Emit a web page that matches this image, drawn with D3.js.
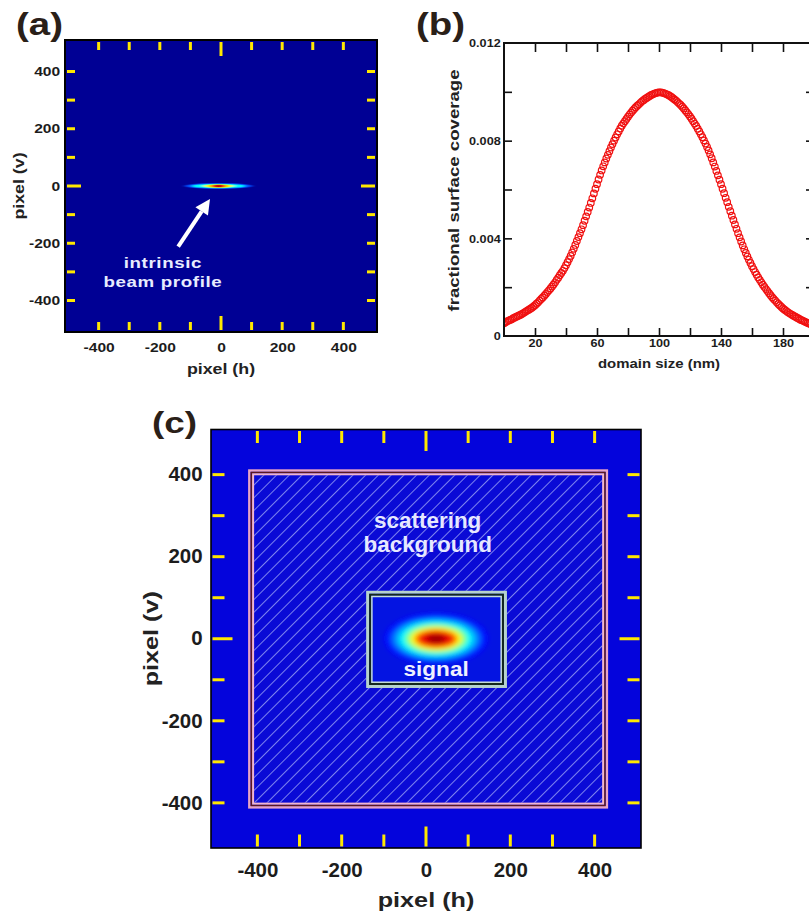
<!DOCTYPE html>
<html><head><meta charset="utf-8">
<script src="https://cdn.jsdelivr.net/npm/d3@7"></script>
<style>
body{margin:0;background:#fff;}
text{font-family:'Liberation Sans',Arial,Helvetica,sans-serif;font-weight:bold;}
</style>
</head><body>
<svg id="fig" width="809" height="920"></svg>
<script>
// ---------------- data ----------------
const pixelDomain = [-510, 510];
const pixelTicks = [-400, -300, -200, -100, 0, 100, 200, 300, 400];
const pixelLabels = [-400, -200, 0, 200, 400];

const domainSize = [0,1,2,3,4,5,6,7,8,9,10,11,12,13,14,15,16,17,18,19,
20,21,22,23,24,25,26,27,28,29,30,31,32,33,34,35,36,37,38,39,
40,41,42,43,44,45,46,47,48,49,50,51,52,53,54,55,56,57,58,59,
60,61,62,63,64,65,66,67,68,69,70,71,72,73,74,75,76,77,78,79,
80,81,82,83,84,85,86,87,88,89,90,91,92,93,94,95,96,97,98,99,
100,101,102,103,104,105,106,107,108,109,110,111,112,113,114,115,116,117,118,119,
120,121,122,123,124,125,126,127,128,129,130,131,132,133,134,135,136,137,138,139,
140,141,142,143,144,145,146,147,148,149,150,151,152,153,154,155,156,157,158,159,
160,161,162,163,164,165,166,167,168,169,170,171,172,173,174,175,176,177,178,179,
180,181,182,183,184,185,186,187,188,189,190,191,192,193,194,195,196,197,198,199];
const coverage = [
0.00052,0.00056,0.00060,0.00063,0.00066,0.00069,0.00073,0.00076,0.00079,0.00082,
0.00085,0.00088,0.00092,0.00096,0.00100,0.00104,0.00108,0.00112,0.00116,0.00121,
0.00126,0.00132,0.00138,0.00145,0.00152,0.00158,0.00165,0.00172,0.00180,0.00187,
0.00195,0.00203,0.00211,0.00220,0.00230,0.00239,0.00249,0.00258,0.00267,0.00278,
0.00290,0.00302,0.00315,0.00328,0.00342,0.00357,0.00373,0.00389,0.00405,0.00421,
0.00437,0.00454,0.00472,0.00490,0.00508,0.00526,0.00545,0.00564,0.00584,0.00603,
0.00622,0.00641,0.00660,0.00678,0.00695,0.00711,0.00727,0.00742,0.00757,0.00772,
0.00786,0.00800,0.00813,0.00826,0.00838,0.00850,0.00861,0.00871,0.00880,0.00889,
0.00898,0.00907,0.00915,0.00923,0.00930,0.00937,0.00943,0.00949,0.00955,0.00961,
0.00966,0.00971,0.00975,0.00979,0.00983,0.00987,0.00990,0.00993,0.00995,0.00997,
0.00998,0.00998,0.00997,0.00995,0.00993,0.00990,0.00987,0.00983,0.00979,0.00974,
0.00969,0.00964,0.00958,0.00952,0.00946,0.00939,0.00932,0.00924,0.00916,0.00908,
0.00899,0.00890,0.00880,0.00870,0.00860,0.00849,0.00838,0.00826,0.00814,0.00801,
0.00788,0.00774,0.00760,0.00744,0.00728,0.00711,0.00694,0.00676,0.00658,0.00640,
0.00622,0.00603,0.00585,0.00566,0.00548,0.00529,0.00511,0.00493,0.00475,0.00457,
0.00439,0.00421,0.00404,0.00387,0.00371,0.00355,0.00340,0.00326,0.00312,0.00299,
0.00286,0.00274,0.00262,0.00251,0.00240,0.00230,0.00220,0.00210,0.00201,0.00192,
0.00184,0.00175,0.00167,0.00159,0.00152,0.00145,0.00138,0.00131,0.00125,0.00119,
0.00113,0.00108,0.00103,0.00098,0.00094,0.00090,0.00086,0.00082,0.00079,0.00075,
0.00072,0.00068,0.00065,0.00062,0.00059,0.00056,0.00053,0.00050,0.00048,0.00046];
const sizeDomain = [0, 200];
const sizeTicks = [20, 40, 60, 80, 100, 120, 140, 160, 180];
const sizeLabels = [20, 60, 100, 140, 180];
const coverageDomain = [0, 0.012];
const coverageTicks = [0, 0.002, 0.004, 0.006, 0.008, 0.010, 0.012];
const coverageLabels = ["0", "", "0.004", "", "0.008", "", "0.012"];

// beam profile (panel a): colour level, half widths in pixel units
const beamCenter = [-8, 0];
const beamLevel = [0.20, 0.38, 0.62, 0.85, 0.97];
const beamRx = [111, 85, 49, 26, 13];
const beamRy = [10, 8, 6, 4.5, 3];

// signal spot (panel c)
const signalCenter = [24, 0];
const signalLevel = [0.14, 0.22, 0.30, 0.38, 0.50, 0.62, 0.72, 0.82, 0.90, 0.97];
const signalRx = [123, 109, 97, 85, 73, 62, 52, 45, 36, 21];
const signalRy = [63, 54, 48, 41, 35, 29, 24, 20, 16, 10];

// regions (panel c), pixel units
const scatterH = [-422, 432];
const scatterV = [-414, 413];
const signalH = [-142, 192];
const signalV = [-120, 117];

// ---------------- helpers ----------------
function jet(t){
  const c = v => Math.max(0, Math.min(1, v));
  return d3.rgb(255*c(1.5-Math.abs(4*t-3)), 255*c(1.5-Math.abs(4*t-2)), 255*c(1.5-Math.abs(4*t-1))).toString();
}
const svg = d3.select('#fig');
const defs = svg.append('defs');
const fmtInt = d => String(d);

function stext(g, str, x, y, size, sx, anchor, rot){
  return g.append('text')
    .attr('transform', `translate(${x},${y})` + (rot ? ` rotate(${rot})` : '') + ` scale(${sx},1)`)
    .attr('text-anchor', anchor || 'middle')
    .style('font-size', size + 'px')
    .text(str);
}

// ---------------- panel (a) ----------------
const A = {l:65, r:377, t:40, b:332};
const xa = d3.scaleLinear().domain(pixelDomain).range([A.l, A.r]);
const ya = d3.scaleLinear().domain(pixelDomain).range([A.b, A.t]);
const ga = svg.append('g');
ga.append('rect').attr('x', A.l).attr('y', A.t).attr('width', A.r-A.l).attr('height', A.b-A.t).attr('fill', jet(0.02));

const fa = defs.append('filter').attr('id','blurA').attr('x','-50%').attr('y','-300%').attr('width','200%').attr('height','700%');
fa.append('feGaussianBlur').attr('stdDeviation','2.2 0.6');
const beamG = ga.append('g').attr('filter','url(#blurA)');
beamG.selectAll('ellipse').data(beamLevel).join('ellipse')
  .attr('cx', xa(beamCenter[0])).attr('cy', ya(beamCenter[1]))
  .attr('rx', (d,i) => xa(beamRx[i]) - xa(0))
  .attr('ry', (d,i) => ya(0) - ya(beamRy[i]))
  .attr('fill', d => jet(d));

function yellowTicks(g, xs, ys, P, minor, major, minorS, majorS){
  const col = '#ffe800';
  pixelTicks.forEach(v => {
    const L = v === 0 ? major : minor;
    const s = v === 0 ? majorS : minorS;
    const x = xs(v), y = ys(v);
    g.append('line').attr('x1',x).attr('x2',x).attr('y1',P.t+s).attr('y2',P.t+s+L).attr('stroke',col).attr('stroke-width',3);
    g.append('line').attr('x1',x).attr('x2',x).attr('y1',P.b-s).attr('y2',P.b-s-L).attr('stroke',col).attr('stroke-width',3);
    g.append('line').attr('y1',y).attr('y2',y).attr('x1',P.l+s).attr('x2',P.l+s+L).attr('stroke',col).attr('stroke-width',3);
    g.append('line').attr('y1',y).attr('y2',y).attr('x1',P.r-s).attr('x2',P.r-s-L).attr('stroke',col).attr('stroke-width',3);
  });
}
yellowTicks(ga, xa, ya, A, 8, 14, 2, 2);
ga.append('rect').attr('x', A.l).attr('y', A.t).attr('width', A.r-A.l).attr('height', A.b-A.t)
  .attr('fill','none').attr('stroke','#000').attr('stroke-width',2);

function styleAxis(g, size, sx){
  g.select('.domain').remove();
  g.selectAll('.tick line').remove();
  g.selectAll('text').style('font-size', size+'px').style('font-family',"'Liberation Sans',Arial,sans-serif")
    .style('font-weight','bold').attr('fill','#1c1c1c').attr('transform', `scale(${sx},1)`);
}
const axA_x = ga.append('g').attr('transform', `translate(0,${A.b})`)
  .call(d3.axisBottom(xa).tickValues(pixelLabels).tickSize(0).tickPadding(11).tickFormat(fmtInt));
styleAxis(axA_x, 13, 1.2);
const axA_y = ga.append('g').attr('transform', `translate(${A.l},0)`)
  .call(d3.axisLeft(ya).tickValues(pixelLabels).tickSize(0).tickPadding(4).tickFormat(fmtInt));
styleAxis(axA_y, 13, 1.2);
stext(ga, 'pixel (h)', xa(0), 374, 14, 1.27).attr('fill','#222');
stext(ga, 'pixel (v)', 24, ya(0), 14, 1.27, 'middle', -90).attr('fill','#222');
stext(ga, '(a)', 16, 35, 32, 1.2, 'start').attr('fill','#2a2018');

// annotation arrow
const arrTail = [-140, -212], arrTip = [-36, -45];
(function(){
  const x1 = xa(arrTail[0]), y1 = ya(arrTail[1]), x2 = xa(arrTip[0]), y2 = ya(arrTip[1]);
  const ang = Math.atan2(y2-y1, x2-x1);
  const hl = 15, hw = 7.5;
  const bx = x2 - hl*Math.cos(ang), by = y2 - hl*Math.sin(ang);
  ga.append('line').attr('x1',x1).attr('y1',y1).attr('x2',bx).attr('y2',by).attr('stroke','#fff').attr('stroke-width',4);
  ga.append('path').attr('d', `M${x2},${y2} L${bx - hw*Math.sin(ang)},${by + hw*Math.cos(ang)} L${bx + hw*Math.sin(ang)},${by - hw*Math.cos(ang)} Z`).attr('fill','#fff');
})();
stext(ga, 'intrinsic', xa(-190), ya(-286), 15, 1.25).attr('fill','#e8ecff').style('letter-spacing','0.5px');
stext(ga, 'beam profile', xa(-190), ya(-352), 15, 1.25).attr('fill','#e8ecff').style('letter-spacing','0.5px');

// ---------------- panel (b) ----------------
const B = {l:504, r:814, t:43, b:336};
const xb = d3.scaleLinear().domain(sizeDomain).range([B.l, B.r]);
const yb = d3.scaleLinear().domain(coverageDomain).range([B.b, B.t]);
const gb = svg.append('g');
defs.append('clipPath').attr('id','clipB').append('rect').attr('x',B.l).attr('y',B.t).attr('width',B.r-B.l).attr('height',B.b-B.t);
gb.append('g').attr('clip-path','url(#clipB)').selectAll('circle').data(domainSize).join('circle')
  .attr('cx', d => xb(d)).attr('cy', (d,i) => yb(coverage[i])).attr('r', 3.3)
  .attr('fill','none').attr('stroke','#f01010').attr('stroke-width',1.2);

function styleB(g){
  g.select('.domain').remove();
  g.selectAll('.tick line').attr('stroke','#111').attr('stroke-width',1.6);
  g.selectAll('text').style('font-size','11.5px').style('font-family',"'Liberation Sans',Arial,sans-serif")
    .style('font-weight','bold').attr('fill','#1c1c1c').attr('transform','scale(1.1,1)');
}
const fmtSize = d => sizeLabels.includes(d) ? d : '';
const axB_b = gb.append('g').attr('transform', `translate(0,${B.b})`)
  .call(d3.axisBottom(xb).tickValues(sizeTicks).tickSize(-8).tickPadding(3).tickFormat(fmtSize));
styleB(axB_b);
const axB_t = gb.append('g').attr('transform', `translate(0,${B.t})`)
  .call(d3.axisTop(xb).tickValues(sizeTicks).tickSize(-9).tickFormat(''));
styleB(axB_t);
const axB_l = gb.append('g').attr('transform', `translate(${B.l},0)`)
  .call(d3.axisLeft(yb).tickValues(coverageTicks).tickSize(-8).tickPadding(3).tickFormat((d,i) => coverageLabels[i]));
styleB(axB_l);
axB_l.selectAll('.tick').filter(d => d === 0).select('line').remove();
axB_l.selectAll('.tick').filter(d => d === 0.012).select('line').remove();
const axB_r = gb.append('g').attr('transform', `translate(${B.r},0)`)
  .call(d3.axisRight(yb).tickValues(coverageTicks.slice(1,-1)).tickSize(-8).tickFormat(''));
styleB(axB_r);
gb.append('rect').attr('x', B.l).attr('y', B.t).attr('width', B.r-B.l).attr('height', B.b-B.t)
  .attr('fill','none').attr('stroke','#111').attr('stroke-width',2);
stext(gb, 'domain size (nm)', xb(100), 368, 13, 1.15).attr('fill','#222');
stext(gb, 'fractional surface coverage', 459, yb(0.006)+1, 14, 1.33, 'middle', -90).attr('fill','#222');
stext(gb, '(b)', 416, 35, 32, 1.2, 'start').attr('fill','#2a2018');

// ---------------- panel (c) ----------------
const C = {l:211, r:641, t:429.5, b:848};
const xc = d3.scaleLinear().domain(pixelDomain).range([C.l, C.r]);
const yc = d3.scaleLinear().domain(pixelDomain).range([C.b, C.t]);
const gc = svg.append('g');
gc.append('rect').attr('x', C.l).attr('y', C.t).attr('width', C.r-C.l).attr('height', C.b-C.t).attr('fill', '#0404dc');

// hatch pattern
const pat = defs.append('pattern').attr('id','hatch').attr('patternUnits','userSpaceOnUse')
  .attr('width', 9).attr('height', 9).attr('patternTransform','rotate(45)');
pat.append('rect').attr('width',9).attr('height',9).attr('fill','#0a0ad6');
pat.append('line').attr('x1',0.5).attr('y1',0).attr('x2',0.5).attr('y2',9).attr('stroke','rgba(200,210,255,0.6)').attr('stroke-width',1);

const sx0 = xc(scatterH[0]), sx1 = xc(scatterH[1]), sy0 = yc(scatterV[1]), sy1 = yc(scatterV[0]);
gc.append('rect').attr('x', sx0+6).attr('y', sy0+6).attr('width', sx1-sx0-12).attr('height', sy1-sy0-12).attr('fill','url(#hatch)');
[[1.25, '#e7a4c4', 2.5], [3.25, '#5a1822', 1.6], [5, '#f2b6cc', 2]].forEach(([ins, col, w]) => {
  gc.append('rect').attr('x', sx0+ins).attr('y', sy0+ins).attr('width', sx1-sx0-2*ins).attr('height', sy1-sy0-2*ins)
    .attr('fill','none').attr('stroke', col).attr('stroke-width', w);
});

const bx0 = xc(signalH[0]), bx1 = xc(signalH[1]), by0 = yc(signalV[1]), by1 = yc(signalV[0]);
gc.append('rect').attr('x', bx0).attr('y', by0).attr('width', bx1-bx0).attr('height', by1-by0).attr('fill','#0414e2');
defs.append('clipPath').attr('id','clipSig').append('rect').attr('x', bx0+6).attr('y', by0+6).attr('width', bx1-bx0-12).attr('height', by1-by0-12);
const fc = defs.append('filter').attr('id','blurC').attr('x','-50%').attr('y','-50%').attr('width','200%').attr('height','200%');
fc.append('feGaussianBlur').attr('stdDeviation','2.5');
gc.append('g').attr('clip-path','url(#clipSig)').append('g').attr('filter','url(#blurC)')
  .selectAll('ellipse').data(signalLevel).join('ellipse')
  .attr('cx', xc(signalCenter[0])).attr('cy', yc(signalCenter[1]))
  .attr('rx', (d,i) => xc(signalRx[i]) - xc(0))
  .attr('ry', (d,i) => yc(0) - yc(signalRy[i]))
  .attr('fill', d => jet(d));
[[1.5, '#b6d2cc', 3], [4, '#14281c', 2], [5.75, '#c6ded6', 1.5]].forEach(([ins, col, w]) => {
  gc.append('rect').attr('x', bx0+ins).attr('y', by0+ins).attr('width', bx1-bx0-2*ins).attr('height', by1-by0-2*ins)
    .attr('fill','none').attr('stroke', col).attr('stroke-width', w);
});

yellowTicks(gc, xc, yc, C, 12, 20, 1.5, 1.5);
gc.append('rect').attr('x', C.l).attr('y', C.t).attr('width', C.r-C.l).attr('height', C.b-C.t)
  .attr('fill','none').attr('stroke','#000').attr('stroke-width',1.6);

const axC_x = gc.append('g').attr('transform', `translate(0,${C.b})`)
  .call(d3.axisBottom(xc).tickValues(pixelLabels).tickSize(0).tickPadding(15).tickFormat(fmtInt));
styleAxis(axC_x, 19.5, 1.05);
const axC_y = gc.append('g').attr('transform', `translate(${C.l},0)`)
  .call(d3.axisLeft(yc).tickValues(pixelLabels).tickSize(0).tickPadding(8).tickFormat(fmtInt));
styleAxis(axC_y, 19.5, 1.05);
stext(gc, 'pixel (h)', xc(0), 907, 21, 1.2).attr('fill','#222');
stext(gc, 'pixel (v)', 158, yc(0), 21, 1.2, 'middle', -90).attr('fill','#222');
stext(gc, '(c)', 152, 433, 30, 1.23, 'start').attr('fill','#2a2018');

stext(gc, 'scattering', xc(4), 528, 22, 1.02).attr('fill','#e6e8ff');
stext(gc, 'background', xc(4), 552, 22, 1.02).attr('fill','#e6e8ff');
stext(gc, 'signal', xc(signalCenter[0]), 676, 20.5, 1.1).attr('fill','#eef0ff');
</script>
</body></html>
